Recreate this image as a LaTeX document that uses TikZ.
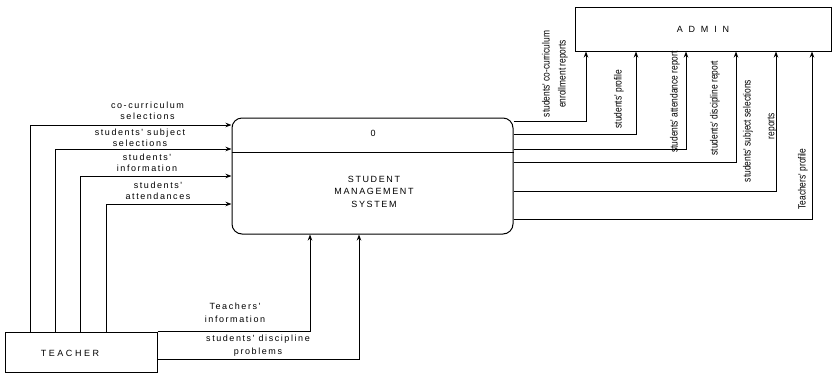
\documentclass[tikz,border=0pt]{standalone}
\usepackage{fontspec}
\setmainfont{Liberation Sans}
\newfontfamily\lblfont[LetterSpace=17.5]{Liberation Sans}
\newfontfamily\sysfont[LetterSpace=18]{Liberation Sans}
\newfontfamily\teachfont[LetterSpace=28]{Liberation Sans}
\newfontfamily\adminfont[LetterSpace=64]{Liberation Sans}
\newfontfamily\rotfont[FakeStretch=0.8]{Liberation Sans}
\usetikzlibrary{arrows.meta}
\begin{document}
\begin{tikzpicture}[x=1pt,y=-1pt,
  flow/.style={line width=1pt,-{Stealth[length=6pt,width=4.5pt]}},
  boxline/.style={draw,line width=1pt},
  lbl/.style={font=\lblfont\fontsize{9}{11.5}\selectfont,align=center,inner sep=0pt},
  rlbl/.style={font=\rotfont\fontsize{10.5}{16}\selectfont,rotate=90,align=center,inner sep=0pt},
]
\useasboundingbox (0,0) rectangle (833,373);
% entities
\node[boxline,rectangle,minimum width=152pt,minimum height=40pt,inner sep=0pt] (teacher) at (81,352) {};
\node[font=\teachfont\fontsize{9}{10}\selectfont,inner sep=0pt] (teachertxt) at (70,353) {TEACHER};
\node[boxline,rectangle,minimum width=256pt,minimum height=44pt,inner sep=0pt,font=\adminfont\fontsize{9}{10}\selectfont] (admin) at (703,29) {ADMIN};
% process
\node[boxline,rounded corners=10pt,minimum width=281pt,minimum height=116pt,inner sep=0pt] (sys) at (372.5,176) {};
\draw[line width=1pt] (sys.west |- 0,152) -- (sys.east |- 0,152);
\node[font=\sysfont\fontsize{9}{10}\selectfont,inner sep=0pt] (sysid) at (373,133) {0};
\node[font=\sysfont\fontsize{9}{12.5}\selectfont,align=center,inner sep=0pt] (sysname) at (374,191.5) {STUDENT\\MANAGEMENT\\SYSTEM};
% teacher -> system (left)
\draw[flow] ([xshift=26pt]teacher.north west) |- (sys.west |- 0,125);
\draw[flow] ([xshift=51pt]teacher.north west) |- (sys.west |- 0,149);
\draw[flow] ([xshift=76pt]teacher.north west) |- (sys.west |- 0,176);
\draw[flow] ([xshift=102pt]teacher.north west) |- (sys.west |- 0,204);
\node[lbl] (l1) at (147.5,111) {co-curriculum\\selections};
\node[lbl] (l2) at (140,138) {students' subject\\selections};
\node[lbl] (l3) at (147,163) {students'\\information};
\node[lbl] (l4) at (158,191) {students'\\attendances};
% teacher -> system (bottom)
\draw[flow] (teacher.north east) -| (310,0 |- sys.south);
\draw[flow] ([yshift=-7pt]teacher.east) -| (359,0 |- sys.south);
\node[lbl,font=\lblfont\fontsize{9}{13}\selectfont] (l5) at (235,312.5) {Teachers'\\information};
\node[lbl,font=\lblfont\fontsize{9}{13}\selectfont] (l6) at (258,345.5) {students' discipline\\problems};
% system -> admin
\draw[flow] (sys.east |- 0,121) -| (586,0 |- admin.south);
\draw[flow] (sys.east |- 0,134) -| (636,0 |- admin.south);
\draw[flow] (sys.east |- 0,149) -| (686,0 |- admin.south);
\draw[flow] (sys.east |- 0,162) -| (736,0 |- admin.south);
\draw[flow] (sys.east |- 0,191) -| (776,0 |- admin.south);
\draw[flow] (sys.east |- 0,219) -| (812,0 |- admin.south);
\node[rlbl] (r1) at (555,74) {students' co-curriculum\\enrollment reports};
\node[rlbl] (r2) at (619,99) {students' profile};
\node[rlbl] (r3) at (675,102) {students' attendance report};
\node[rlbl] (r4) at (715,108) {students' discipline report};
\node[rlbl] (r5) at (748,131) {students' subject selections};
\node[rlbl] (r6) at (772,126) {reports};
\node[rlbl] (r7) at (803,179) {Teachers' profile};
\end{tikzpicture}
\end{document}
